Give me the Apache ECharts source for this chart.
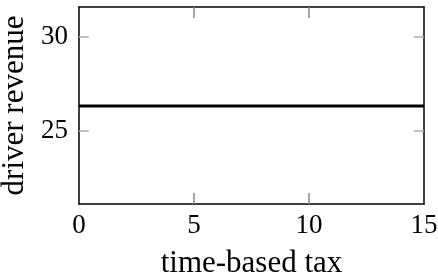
<!DOCTYPE html>
<html>
<head>
<meta charset="utf-8">
<script src="https://cdn.jsdelivr.net/npm/echarts@6/dist/echarts.min.js"></script>
<style>
  html, body { margin: 0; padding: 0; background: #fff; }
  #chart { width: 438px; height: 279px; }
</style>
</head>
<body>
<div id="chart"></div>
<script>
// data
const taxValues = [0, 15];
const revenueValues = [26.33, 26.33];
const xTicks = [0, 5, 10, 15];
const yTicks = [25, 30];

const chart = echarts.init(document.getElementById('chart'));
const font = 'Liberation Serif';
const points = taxValues.map((t, i) => [t, revenueValues[i]]);

// inner ticks only between the corners
const xInnerTicks = xTicks.slice(1, -1);

function yAxisOf(pos) {
  return {
    type: 'value',
    position: pos,
    min: 21.1,
    max: 31.6,
    axisLine: { show: true, onZero: false, lineStyle: { color: '#000', width: 1.5 } },
    axisTick: { show: true, inside: true, length: 10, customValues: yTicks.slice(),
      lineStyle: { color: '#aaa', width: 1.5 } },
    axisLabel: { show: false },
    splitLine: { show: false }
  };
}

function xAxisOf(pos) {
  return {
    type: 'value',
    position: pos,
    min: 0,
    max: 15,
    interval: 5,
    axisLine: { show: true, onZero: false, lineStyle: { color: '#000', width: 1.5 } },
    axisTick: { show: true, inside: true, length: 11, customValues: xInnerTicks.slice(),
      lineStyle: { color: '#888', width: 1.5 } },
    axisLabel: { show: false },
    splitLine: { show: false }
  };
}

const xBottom = xAxisOf('bottom');
xBottom.name = 'time-based tax';
xBottom.nameLocation = 'middle';
xBottom.nameGap = 44;
xBottom.nameTextStyle = { fontFamily: font, fontSize: 31, color: '#000' };
xBottom.axisLabel = { show: true, fontFamily: font, fontSize: 27, color: '#000', margin: 8,
  customValues: xTicks };

const yLeft = yAxisOf('left');
yLeft.name = 'driver revenue';
yLeft.nameLocation = 'middle';
yLeft.nameGap = 38;
yLeft.nameTextStyle = { fontFamily: font, fontSize: 31, color: '#000' };
yLeft.axisLabel = { show: true, fontFamily: font, fontSize: 27, color: '#000', margin: 11,
  customValues: yTicks };

const option = {
  animation: false,
  grid: { left: 79, right: 14, top: 7, bottom: 75, containLabel: false, outerBoundsMode: 'none' },
  xAxis: [xBottom, xAxisOf('top')],
  yAxis: [yLeft, yAxisOf('right')],
  series: [{
    type: 'line',
    data: points,
    showSymbol: false,
    lineStyle: { color: '#000', width: 3 }
  }]
};
chart.setOption(option);
</script>
</body>
</html>
